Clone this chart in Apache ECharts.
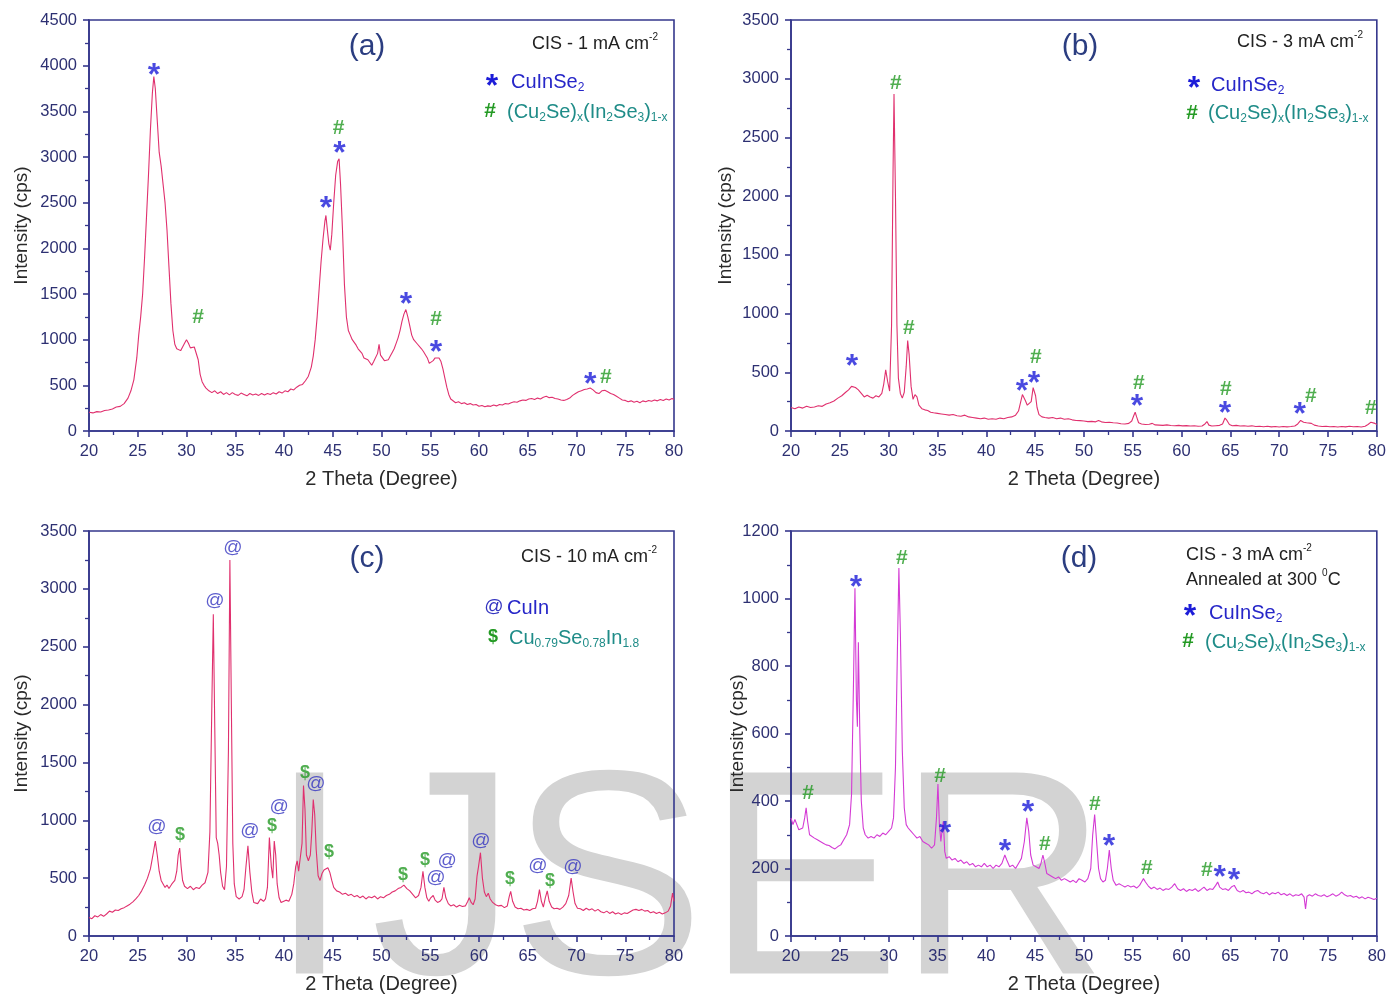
<!DOCTYPE html>
<html><head><meta charset="utf-8">
<script src="https://cdn.jsdelivr.net/npm/echarts@6/dist/echarts.min.js"></script>
<style>html,body{margin:0;padding:0;background:#fff}#c{width:1389px;height:995px}</style>
</head><body><div id="c"></div>
<script>
// ---------------- data ----------------
const thetaRange = [20, 80];
const intensityMax = [4500, 3500, 3500, 1200];
const intensityStep = [500, 500, 500, 200];

// (a) CIS - 1 mA cm-2 : [2theta, cps]
const scanA = [[20.0,205],[20.4,198],[20.8,212],[21.2,208],[21.6,225],[22.0,230],[22.4,240],[22.8,262],[23.2,270],[23.6,300],[24.0,360],[24.3,440],[24.6,560],[24.9,800],[25.1,1050],[25.3,1250],[25.5,1500],[25.7,1900],[25.9,2350],[26.1,2800],[26.3,3300],[26.5,3700],[26.65,3880],[26.8,3750],[27.0,3400],[27.2,3050],[27.4,2900],[27.6,2700],[27.8,2500],[28.0,2200],[28.2,1800],[28.4,1400],[28.6,1100],[28.8,950],[29.0,900],[29.2,920],[29.4,880],[29.6,920],[29.8,960],[30.0,1000],[30.2,960],[30.4,910],[30.6,930],[30.8,920],[31.0,930],[31.2,780],[31.4,620],[31.6,540],[31.8,500],[32.0,470],[32.3,440],[32.6,420],[32.9,440],[33.2,410],[33.5,430],[33.8,400],[34.1,420],[34.4,395],[34.7,420],[35.0,400],[35.3,390],[35.6,415],[35.9,400],[36.2,385],[36.5,410],[36.8,395],[37.1,405],[37.4,390],[37.7,410],[38.0,395],[38.3,410],[38.6,400],[38.9,420],[39.2,405],[39.5,430],[39.8,415],[40.1,440],[40.4,430],[40.7,460],[41.0,450],[41.3,480],[41.6,500],[41.9,510],[42.2,550],[42.5,600],[42.8,700],[43.0,820],[43.2,1000],[43.4,1250],[43.6,1550],[43.8,1850],[44.0,2100],[44.2,2300],[44.3,2360],[44.45,2200],[44.6,2050],[44.75,1980],[44.9,2150],[45.1,2500],[45.3,2800],[45.5,2950],[45.65,2980],[45.8,2700],[46.0,2200],[46.2,1600],[46.4,1250],[46.6,1100],[46.8,1050],[47.0,1000],[47.2,980],[47.4,940],[47.6,900],[47.8,880],[48.0,850],[48.2,800],[48.4,820],[48.6,780],[48.8,760],[49.0,720],[49.2,760],[49.4,780],[49.6,850],[49.75,950],[49.9,830],[50.1,800],[50.3,770],[50.5,790],[50.7,780],[50.9,820],[51.1,860],[51.3,900],[51.5,960],[51.7,1020],[51.9,1100],[52.1,1200],[52.3,1280],[52.5,1330],[52.7,1250],[52.9,1150],[53.1,1050],[53.3,1000],[53.5,980],[53.7,950],[53.9,930],[54.1,900],[54.3,870],[54.5,850],[54.7,800],[54.9,740],[55.1,720],[55.3,770],[55.5,800],[55.7,790],[55.9,800],[56.1,760],[56.3,680],[56.5,580],[56.7,480],[56.9,400],[57.1,350],[57.3,330],[57.6,310],[57.9,320],[58.2,300],[58.5,310],[58.8,290],[59.1,300],[59.4,285],[59.7,290],[60.0,270],[60.3,280],[60.6,265],[60.9,275],[61.2,270],[61.5,285],[61.8,275],[62.1,290],[62.4,285],[62.7,300],[63.0,295],[63.3,310],[63.6,320],[63.9,315],[64.2,330],[64.5,340],[64.8,335],[65.1,350],[65.4,355],[65.7,345],[66.0,360],[66.3,350],[66.6,370],[66.9,380],[67.2,365],[67.5,370],[67.8,355],[68.1,350],[68.4,340],[68.7,335],[69.0,345],[69.3,360],[69.6,390],[69.9,410],[70.2,430],[70.5,440],[70.8,455],[71.1,460],[71.4,470],[71.7,450],[72.0,420],[72.3,410],[72.6,440],[72.9,445],[73.2,430],[73.5,410],[73.8,400],[74.1,380],[74.4,360],[74.7,340],[75.0,335],[75.3,320],[75.6,330],[75.9,315],[76.2,325],[76.5,310],[76.8,330],[77.1,320],[77.4,335],[77.7,325],[78.0,340],[78.3,330],[78.6,345],[78.9,335],[79.2,350],[79.5,340],[79.8,355],[80.0,345]];

// (b) CIS - 3 mA cm-2
const scanB = [[20.0,200],[20.4,190],[20.8,205],[21.2,195],[21.6,210],[22.0,200],[22.4,205],[22.8,215],[23.2,210],[23.6,230],[24.0,240],[24.4,255],[24.8,280],[25.2,300],[25.6,330],[25.9,350],[26.2,380],[26.4,395],[26.6,370],[26.9,350],[27.2,320],[27.5,290],[27.8,305],[28.1,290],[28.4,280],[28.7,300],[29.0,290],[29.3,320],[29.5,400],[29.7,520],[29.9,420],[30.1,340],[30.3,900],[30.45,2200],[30.55,2870],[30.7,2000],[30.85,900],[31.0,450],[31.2,320],[31.4,280],[31.6,330],[31.8,550],[31.95,770],[32.1,650],[32.3,380],[32.5,270],[32.7,310],[32.9,290],[33.1,220],[33.4,190],[33.7,180],[34.0,175],[34.3,160],[34.6,155],[35.0,150],[35.4,145],[35.8,140],[36.2,135],[36.6,140],[37.0,130],[37.4,125],[37.8,135],[38.2,120],[38.6,115],[39.0,110],[39.4,105],[39.8,110],[40.2,100],[40.6,105],[41.0,100],[41.4,110],[41.8,105],[42.2,115],[42.6,120],[43.0,135],[43.3,170],[43.5,240],[43.7,310],[43.85,320],[44.0,260],[44.2,220],[44.4,210],[44.6,250],[44.8,370],[44.9,380],[45.05,300],[45.2,200],[45.4,140],[45.7,120],[46.0,115],[46.4,110],[46.8,115],[47.2,105],[47.6,110],[48.0,100],[48.4,105],[48.8,95],[49.2,90],[49.6,88],[50.0,85],[50.4,80],[50.8,82],[51.2,78],[51.5,90],[51.8,78],[52.2,72],[52.6,75],[53.0,70],[53.4,68],[53.8,62],[54.2,60],[54.6,65],[54.9,85],[55.1,130],[55.25,160],[55.4,120],[55.6,70],[55.9,60],[56.3,55],[56.7,58],[57.0,65],[57.3,52],[57.7,50],[58.1,48],[58.5,52],[58.9,47],[59.3,45],[59.7,48],[60.1,44],[60.5,46],[60.9,42],[61.3,45],[61.7,40],[62.1,42],[62.4,60],[62.6,80],[62.8,50],[63.1,42],[63.5,45],[63.9,48],[64.2,60],[64.45,110],[64.65,90],[64.9,55],[65.2,45],[65.6,48],[66.0,42],[66.4,45],[66.8,40],[67.2,44],[67.6,38],[68.0,40],[68.4,36],[68.8,40],[69.2,35],[69.6,38],[70.0,34],[70.4,38],[70.8,35],[71.2,38],[71.6,42],[71.9,60],[72.2,90],[72.5,75],[72.8,70],[73.0,80],[73.3,65],[73.6,50],[74.0,42],[74.4,38],[74.8,40],[75.2,36],[75.6,38],[76.0,34],[76.4,38],[76.8,35],[77.2,40],[77.6,36],[78.0,38],[78.4,34],[78.8,40],[79.1,55],[79.4,75],[79.6,80],[79.8,65],[80.0,55]];

// (c) CIS - 10 mA cm-2
const scanC = [[20.0,160],[20.3,150],[20.6,175],[20.9,165],[21.2,185],[21.5,170],[21.8,190],[22.1,215],[22.4,205],[22.7,225],[23.0,220],[23.3,235],[23.6,245],[23.9,260],[24.2,275],[24.5,295],[24.8,320],[25.1,350],[25.4,390],[25.7,440],[26.0,500],[26.3,580],[26.6,720],[26.8,820],[27.0,700],[27.2,560],[27.4,480],[27.6,450],[27.8,420],[28.0,440],[28.2,410],[28.5,450],[28.8,480],[29.0,560],[29.15,700],[29.3,760],[29.45,600],[29.6,480],[29.8,430],[30.1,410],[30.4,430],[30.7,400],[31.0,420],[31.3,410],[31.6,440],[31.9,460],[32.2,550],[32.4,900],[32.6,2000],[32.75,2780],[32.9,1800],[33.05,850],[33.2,800],[33.35,700],[33.5,550],[33.7,430],[33.9,400],[34.1,600],[34.3,1600],[34.45,3250],[34.6,2000],[34.75,800],[34.9,450],[35.1,340],[35.4,320],[35.7,340],[35.9,400],[36.1,600],[36.3,780],[36.5,550],[36.7,380],[36.9,290],[37.1,300],[37.3,280],[37.6,320],[37.9,300],[38.1,320],[38.3,420],[38.5,850],[38.7,600],[38.85,500],[39.0,820],[39.15,700],[39.3,450],[39.5,330],[39.7,290],[39.9,300],[40.2,310],[40.5,300],[40.8,360],[41.0,450],[41.2,600],[41.35,650],[41.5,560],[41.7,550],[41.85,800],[42.0,1300],[42.15,1100],[42.3,700],[42.5,650],[42.7,700],[42.85,900],[43.0,1180],[43.15,1050],[43.3,750],[43.5,520],[43.7,480],[43.9,540],[44.1,570],[44.3,580],[44.5,590],[44.7,550],[44.9,480],[45.1,420],[45.4,390],[45.7,380],[46.0,360],[46.3,370],[46.6,350],[46.9,360],[47.2,340],[47.5,350],[47.8,330],[48.1,345],[48.4,320],[48.7,340],[49.0,330],[49.3,345],[49.6,320],[49.9,340],[50.2,330],[50.5,350],[50.8,360],[51.1,380],[51.4,390],[51.7,410],[52.0,420],[52.3,440],[52.6,410],[52.9,390],[53.2,360],[53.5,330],[53.8,350],[54.05,420],[54.25,560],[54.45,420],[54.65,330],[54.85,300],[55.05,330],[55.3,350],[55.5,310],[55.75,290],[56.0,300],[56.2,320],[56.4,420],[56.6,330],[56.85,280],[57.1,260],[57.4,270],[57.7,250],[58.0,265],[58.3,255],[58.6,260],[58.85,300],[59.0,330],[59.2,290],[59.4,270],[59.6,320],[59.8,520],[59.95,600],[60.15,720],[60.35,500],[60.55,380],[60.75,340],[60.95,370],[61.15,320],[61.4,290],[61.7,270],[62.0,260],[62.3,265],[62.6,245],[62.9,260],[63.1,340],[63.25,385],[63.45,300],[63.7,250],[64.0,235],[64.3,240],[64.6,225],[64.9,230],[65.2,220],[65.5,235],[65.8,240],[66.0,300],[66.2,400],[66.4,300],[66.6,250],[66.8,330],[67.0,390],[67.2,300],[67.45,250],[67.7,235],[68.0,240],[68.3,230],[68.6,250],[68.9,280],[69.2,350],[69.45,500],[69.65,380],[69.85,280],[70.1,240],[70.4,235],[70.7,220],[71.0,240],[71.3,225],[71.6,235],[71.9,215],[72.2,230],[72.5,210],[72.8,200],[73.1,215],[73.4,195],[73.7,210],[74.0,190],[74.3,200],[74.6,185],[74.9,200],[75.2,195],[75.5,210],[75.8,225],[76.1,230],[76.4,220],[76.7,230],[77.0,215],[77.3,220],[77.6,200],[77.9,210],[78.2,195],[78.5,205],[78.8,190],[79.1,200],[79.4,215],[79.65,260],[79.85,370],[80.0,300]];

// (d) CIS - 3 mA cm-2, annealed at 300 C
const scanD = [[20.0,350],[20.2,330],[20.4,345],[20.6,330],[20.8,315],[21.0,310],[21.2,320],[21.4,350],[21.55,380],[21.7,340],[21.9,300],[22.1,295],[22.4,290],[22.7,285],[23.0,280],[23.3,275],[23.6,270],[23.9,268],[24.2,262],[24.5,258],[24.8,265],[25.1,270],[25.4,285],[25.7,300],[26.0,330],[26.2,420],[26.4,750],[26.55,1030],[26.7,700],[26.8,620],[26.9,870],[27.05,600],[27.2,400],[27.4,320],[27.6,300],[27.9,290],[28.2,295],[28.5,290],[28.8,300],[29.1,295],[29.4,305],[29.7,300],[30.0,310],[30.3,320],[30.5,350],[30.7,500],[30.9,850],[31.05,1090],[31.2,900],[31.4,550],[31.6,380],[31.8,330],[32.0,320],[32.3,310],[32.6,300],[32.9,290],[33.2,295],[33.5,280],[33.8,275],[34.1,270],[34.4,260],[34.7,270],[34.9,350],[35.05,450],[35.2,330],[35.35,280],[35.5,320],[35.6,340],[35.75,250],[35.9,230],[36.2,235],[36.5,225],[36.8,230],[37.1,220],[37.4,225],[37.7,215],[38.0,220],[38.3,210],[38.6,215],[38.9,205],[39.2,210],[39.5,205],[39.8,215],[40.1,205],[40.4,210],[40.7,200],[41.0,210],[41.3,205],[41.6,215],[41.9,240],[42.1,225],[42.4,205],[42.7,210],[43.0,200],[43.3,215],[43.6,230],[43.9,280],[44.15,350],[44.35,310],[44.55,240],[44.8,210],[45.1,205],[45.4,200],[45.6,215],[45.8,240],[46.0,215],[46.2,185],[46.5,180],[46.8,175],[47.1,170],[47.4,175],[47.7,165],[48.0,170],[48.3,165],[48.6,160],[48.9,165],[49.2,158],[49.5,170],[49.8,165],[50.1,160],[50.4,170],[50.7,200],[50.9,300],[51.1,360],[51.3,280],[51.5,200],[51.7,170],[51.95,160],[52.2,165],[52.4,200],[52.6,255],[52.8,200],[53.0,165],[53.3,150],[53.6,155],[53.9,150],[54.2,145],[54.5,150],[54.8,145],[55.1,148],[55.4,142],[55.7,150],[55.9,160],[56.1,170],[56.3,160],[56.6,148],[56.9,140],[57.2,145],[57.5,138],[57.8,142],[58.1,135],[58.4,140],[58.7,138],[59.0,145],[59.3,155],[59.6,140],[59.9,135],[60.2,140],[60.5,132],[60.8,138],[61.1,135],[61.4,140],[61.7,132],[62.0,138],[62.3,145],[62.6,135],[62.9,140],[63.2,138],[63.5,150],[63.7,160],[63.9,145],[64.2,138],[64.5,140],[64.8,135],[65.1,145],[65.4,150],[65.7,135],[66.0,130],[66.3,135],[66.6,128],[66.9,130],[67.2,125],[67.5,132],[67.8,135],[68.1,128],[68.4,125],[68.7,130],[69.0,122],[69.3,128],[69.6,125],[69.9,130],[70.2,122],[70.5,126],[70.8,120],[71.1,125],[71.4,118],[71.7,122],[72.0,120],[72.3,125],[72.55,115],[72.7,80],[72.85,118],[73.1,122],[73.4,118],[73.7,125],[74.0,120],[74.3,118],[74.6,122],[74.9,116],[75.2,120],[75.5,125],[75.8,118],[76.1,122],[76.4,130],[76.7,122],[77.0,118],[77.3,120],[77.6,115],[77.9,118],[78.2,112],[78.5,116],[78.8,110],[79.1,115],[79.4,112],[79.7,108],[80.0,112]];

// phase markers: [2theta, cps, glyph]
const marksA = [[26.67,3965,'*'],[31.2,1249,'#'],[45.6,3319,'#'],[45.7,3110,'*'],[44.3,2508,'*'],[52.5,1457,'*'],[55.6,1227,'#'],[55.6,931,'*'],[71.4,580,'*'],[73.0,591,'#']];
const marksB = [[26.25,605,'*'],[30.75,2964,'#'],[32.08,877,'#'],[45.08,630,'#'],[44.88,460,'*'],[43.65,392,'*'],[55.63,409,'#'],[55.43,264,'*'],[64.54,358,'#'],[64.44,204,'*'],[72.11,196,'*'],[73.24,298,'#'],[79.38,196,'#']];
const marksC = [[26.97,937,'@'],[29.33,869,'$'],[32.92,2887,'@'],[34.77,3347,'@'],[36.51,903,'@'],[38.77,954,'$'],[39.49,1107,'@'],[42.15,1405,'$'],[43.28,1303,'@'],[44.62,724,'$'],[52.2,528,'$'],[54.46,656,'$'],[55.59,494,'@'],[56.72,639,'@'],[60.2,818,'@'],[63.18,494,'$'],[66.05,596,'@'],[67.28,477,'$'],[69.64,588,'@']];
const marksD = [[21.74,423,'#'],[26.65,1051,'*'],[31.36,1118,'#'],[35.26,473,'#'],[35.77,321,'*'],[41.91,269,'*'],[44.27,385,'*'],[46.0,272,'#'],[51.12,391,'#'],[52.56,283,'*'],[56.45,201,'#'],[62.59,196,'#'],[63.92,193,'*'],[65.36,184,'*']];

const panelTags = ['(a)', '(b)', '(c)', '(d)'];
const xTitle = '2 Theta (Degree)';
const yTitle = 'Intensity (cps)';
const watermark = ['I', 'J', 'S', 'E', 'R'];

// ---------------- styling ----------------
const FONT = "'Liberation Sans', Arial, Helvetica, sans-serif";
const NAVY = '#35378c';
const TICK_TXT = '#2d3072';
const LINE_COLORS = ['#e0306e', '#e0306e', '#e0306e', '#d43ad4'];
const grids = [
  {left: 89, top: 20, width: 585, height: 411},
  {left: 791, top: 20, width: 586, height: 411},
  {left: 89, top: 531, width: 585, height: 411},
  {left: 791, top: 531, width: 586, height: 411}
];
const yNameGap = [58, 56, 58, 44];
const wmLeft = [269, 371, 510, 706, 897];
const MARK = {
  '*': {color: '#1c1cd8', fontSize: 32, fontWeight: 'bold', offset: [0, 7]},
  '#': {color: '#249a24', fontSize: 21, fontWeight: 'bold', offset: [0, 0]},
  '@': {color: '#3434c0', fontSize: 19, offset: [0, -1]},
  '$': {color: '#249a24', fontSize: 18, fontWeight: 'bold', offset: [0, 0]}
};

const chart = echarts.init(document.getElementById('c'), null, {renderer: 'canvas'});

const xAxes = grids.map((g, i) => ({
  gridIndex: i, type: 'value', min: thetaRange[0], max: thetaRange[1], interval: 5,
  name: xTitle, nameLocation: 'middle', nameGap: 38, nameMoveOverlap: false,
  nameTextStyle: {fontSize: 20, color: '#2a2a2a', fontFamily: FONT},
  axisLine: {show: true, onZero: false, lineStyle: {color: NAVY, width: 1.6}},
  axisTick: {show: true, inside: false, length: 6, lineStyle: {color: NAVY, width: 1.6}},
  minorTick: {show: true, splitNumber: 2, length: 4, lineStyle: {color: NAVY, width: 1.3}},
  axisLabel: {color: TICK_TXT, fontSize: 16.5, margin: 12, fontFamily: FONT, formatter: v => String(v)},
  splitLine: {show: false}
}));
const yAxes = grids.map((g, i) => ({
  gridIndex: i, type: 'value', min: 0, max: intensityMax[i], interval: intensityStep[i],
  name: yTitle, nameLocation: 'middle', nameGap: yNameGap[i], nameMoveOverlap: false,
  nameTextStyle: {fontSize: 19, color: '#2a2a2a', fontFamily: FONT},
  axisLine: {show: true, onZero: false, lineStyle: {color: NAVY, width: 1.6}},
  axisTick: {show: true, inside: false, length: 6, lineStyle: {color: NAVY, width: 1.6}},
  minorTick: {show: true, splitNumber: 2, length: 4, lineStyle: {color: NAVY, width: 1.3}},
  axisLabel: {color: TICK_TXT, fontSize: 16.5, margin: 12, fontFamily: FONT, formatter: v => String(v)},
  splitLine: {show: false}
}));

const scans = [scanA, scanB, scanC, scanD];
const marks = [marksA, marksB, marksC, marksD];
const series = [];
scans.forEach((s, i) => series.push({
  type: 'line', xAxisIndex: i, yAxisIndex: i, data: s, showSymbol: false, symbol: 'none',
  lineStyle: {color: LINE_COLORS[i], width: 1.1}, z: 3, silent: true, animation: false
}));
marks.forEach((m, i) => series.push({
  type: 'scatter', xAxisIndex: i, yAxisIndex: i, symbolSize: 1, z: 5, silent: true, animation: false,
  itemStyle: {color: 'rgba(0,0,0,0)'},
  data: m.map(a => ({value: [a[0], a[1]], label: Object.assign({show: true, position: 'inside', formatter: a[2], fontFamily: FONT}, MARK[a[2]])}))
}));

// ----- text helpers -----
function rt(x, y, text, rich, align) {
  return {type: 'text', z: 50, x: x, y: y,
    style: {text: text, rich: rich, align: align || 'left', verticalAlign: 'middle', fontFamily: FONT}};
}
function richSet(color, main, sub) {
  return {
    m: {fontSize: main, fontFamily: FONT, fill: color, lineHeight: 24},
    s: {fontSize: sub, fontFamily: FONT, fill: color, lineHeight: 11, verticalAlign: 'bottom'},
    p: {fontSize: sub - 1, fontFamily: FONT, fill: color, lineHeight: 12, verticalAlign: 'top'}
  };
}
const TXT = '#222222', BLUE = '#2626c8', TEAL = '#1f8c88', TAGC = '#2b3d80';
const cis = (n) => '{m|CIS - ' + n + ' mA cm}{p|-2}';
const cuinse2 = '{m|CuInSe}{s|2}';
const mixed = '{m|(Cu}{s|2}{m|Se)}{s|x}{m|(In}{s|2}{m|Se}{s|3}{m|)}{s|1-x}';
function glyph(x, y, ch) {
  const st = MARK[ch];
  return {type: 'text', z: 50, x: x + st.offset[0], y: y + st.offset[1],
    style: {text: ch, fill: st.color, fontSize: st.fontSize, fontWeight: st.fontWeight || 'normal', fontFamily: FONT, align: 'center', verticalAlign: 'middle'}};
}
function tag(x, y, t) {
  return {type: 'text', z: 50, x: x, y: y, style: {text: t, fill: TAGC, fontSize: 30, fontFamily: FONT, align: 'center', verticalAlign: 'middle'}};
}

const graphics = watermark.map((ch, k) => ({type: 'text', z: -10, x: wmLeft[k], y: 893, silent: true,
   style: {text: ch, fill: '#d3d3d3', fontSize: 292, fontFamily: FONT, align: 'left', verticalAlign: 'middle'}}))
.concat([
  // (a)
  tag(367, 47, panelTags[0]),
  rt(658, 44, cis('1'), richSet(TXT, 18, 11), 'right'),
  glyph(492, 80, '*'), rt(511, 82, cuinse2, richSet(BLUE, 20, 12)),
  glyph(490, 111, '#'), rt(507, 112, mixed, richSet(TEAL, 20, 12)),
  // (b)
  tag(1080, 47, panelTags[1]),
  rt(1363, 42, cis('3'), richSet(TXT, 18, 11), 'right'),
  glyph(1194, 82, '*'), rt(1211, 85, cuinse2, richSet(BLUE, 20, 12)),
  glyph(1192, 113, '#'), rt(1208, 113, mixed, richSet(TEAL, 20, 12)),
  // (c)
  tag(367, 559, panelTags[2]),
  rt(657, 557, cis('10'), richSet(TXT, 18, 11), 'right'),
  glyph(494, 608, '@'), rt(507, 608, '{m|CuIn}', richSet(BLUE, 20, 12)),
  glyph(493, 637, '$'), rt(509, 638, '{m|Cu}{s|0.79}{m|Se}{s|0.78}{m|In}{s|1.8}', richSet(TEAL, 20, 12)),
  // (d)
  tag(1079, 559, panelTags[3]),
  rt(1186, 555, cis('3'), richSet(TXT, 18, 11)),
  rt(1186, 580, '{m|Annealed at 300 }{p|0}{m|C}', richSet(TXT, 18, 11)),
  glyph(1190, 610, '*'), rt(1209, 613, cuinse2, richSet(BLUE, 20, 12)),
  glyph(1188, 641, '#'), rt(1205, 642, mixed, richSet(TEAL, 20, 12))
]);

chart.setOption({
  animation: false,
  backgroundColor: '#ffffff',
  grid: grids.map(g => Object.assign({show: true, borderColor: NAVY, borderWidth: 1.6, backgroundColor: 'transparent', containLabel: false}, g)),
  xAxis: xAxes,
  yAxis: yAxes,
  series: series,
  graphic: graphics
});
</script>
</body></html>
